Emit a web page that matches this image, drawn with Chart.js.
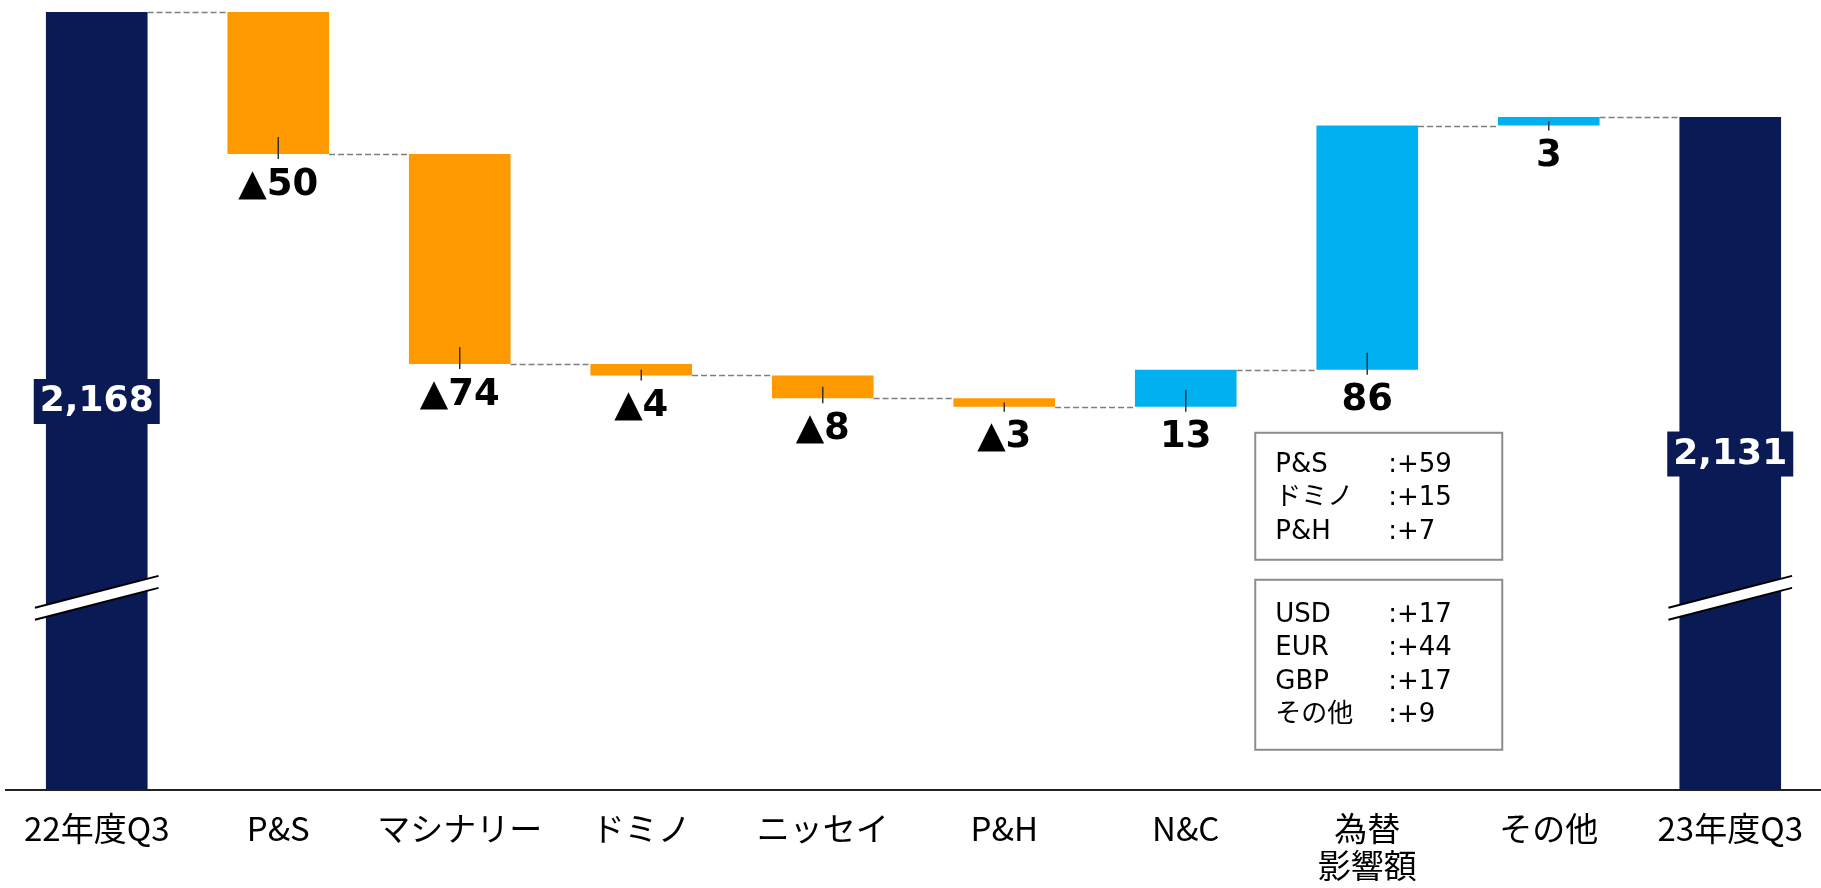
<!DOCTYPE html>
<html lang="ja">
<head>
<meta charset="utf-8">
<title>営業利益 増減要因</title>
<script src="https://cdn.jsdelivr.net/npm/chart.js@4.4.1/dist/chart.umd.min.js"></script>
<style>
  html, body { margin: 0; padding: 0; background: #fff; overflow: hidden; }
  #wrap { width: 1821px; height: 888px; }
</style>
</head>
<body>
<div id="wrap"><canvas id="chart" width="1821" height="888"></canvas></div>
<script>
const categories = ['22年度Q3', 'P&S', 'マシナリー', 'ドミノ', 'ニッセイ', 'P&H', 'N&C', ['為替', '影響額'], 'その他', '23年度Q3'];
const startTotal = 2168;
const endTotal = 2131;
const changes = [-50, -74, -4, -8, -3, 13, 86, 3];

// breakdown of the FX impact (為替影響額)
const fxSegmentNames = ['P&S', 'ドミノ', 'P&H'];
const fxSegmentValues = [59, 15, 7];
const fxCurrencyNames = ['USD', 'EUR', 'GBP', 'その他'];
const fxCurrencyValues = [17, 44, 17, 9];

// axis is cut (broken bars), so it doesn't start at zero
const yMin = 1894;
const yMax = 2168;

const NAVY = '#0a1a55';
const ORANGE = '#ff9900';
const BLUE = '#00b0f0';

// build floating bars
const ranges = [[yMin, startTotal]];
const colors = [NAVY];
let running = startTotal;
changes.forEach(c => {
  ranges.push([running, running + c]);
  colors.push(c < 0 ? ORANGE : BLUE);
  running += c;
});
ranges.push([yMin, endTotal]);
colors.push(NAVY);

function fmtChange(v) {
  return v < 0 ? '▲' + Math.abs(v) : String(v);
}

const extras = {
  id: 'extras',
  afterDatasetsDraw(chart) {
    const ctx = chart.ctx;
    const area = chart.chartArea;
    const ys = chart.scales.y;
    const bars = chart.getDatasetMeta(0).data;
    const last = bars.length - 1;
    ctx.save();

    // dashed connectors
    ctx.strokeStyle = '#7f7f7f';
    ctx.lineWidth = 1.5;
    ctx.setLineDash([6, 3]);
    for (let i = 0; i < last; i++) {
      const a = bars[i], b = bars[i + 1];
      const py = Math.round(ys.getPixelForValue(ranges[i][1])) + 0.5;
      ctx.beginPath();
      ctx.moveTo(a.x + a.width / 2, py);
      ctx.lineTo(b.x - b.width / 2, py);
      ctx.stroke();
    }
    ctx.setLineDash([]);

    // change labels with small tick
    ctx.textAlign = 'center';
    ctx.textBaseline = 'middle';
    ctx.font = 'bold 37px "DejaVu Sans"';
    for (let i = 1; i < last; i++) {
      const bar = bars[i];
      const top = Math.min(bar.y, bar.base);
      const bottom = Math.max(bar.y, bar.base);
      const up = Math.min(17, (bottom - top) / 2);
      ctx.strokeStyle = '#333';
      ctx.lineWidth = 1.5;
      ctx.beginPath();
      ctx.moveTo(bar.x, bottom - up);
      ctx.lineTo(bar.x, bottom + 5);
      ctx.stroke();
      ctx.fillStyle = '#000';
      ctx.fillText(fmtChange(changes[i - 1]), bar.x, bottom + 31);
    }

    // axis break marks on total bars
    const breakY = area.bottom - 0.247 * (area.bottom - area.top);
    [0, last].forEach(i => {
      const bar = bars[i];
      const x0 = bar.x - bar.width / 2 - 11;
      const x1 = bar.x + bar.width / 2 + 11;
      const s = 0.258;
      const dy0 = s * (bar.x - x0), dy1 = s * (x1 - bar.x);
      ctx.fillStyle = '#fff';
      ctx.beginPath();
      ctx.moveTo(x0, breakY - 6 + dy0);
      ctx.lineTo(x1, breakY - 6 - dy1);
      ctx.lineTo(x1, breakY + 6 - dy1);
      ctx.lineTo(x0, breakY + 6 + dy0);
      ctx.closePath();
      ctx.fill();
      ctx.strokeStyle = '#000';
      ctx.lineWidth = 2;
      ctx.beginPath();
      ctx.moveTo(x0, breakY - 6 + dy0);
      ctx.lineTo(x1, breakY - 6 - dy1);
      ctx.moveTo(x0, breakY + 6 + dy0);
      ctx.lineTo(x1, breakY + 6 - dy1);
      ctx.stroke();
    });

    // total labels in navy boxes
    [[0, startTotal], [last, endTotal]].forEach(([i, v]) => {
      const bar = bars[i];
      const cy = (bar.y + area.bottom) / 2;
      ctx.fillStyle = NAVY;
      ctx.fillRect(bar.x - 63, cy - 22, 126, 45);
      ctx.fillStyle = '#fff';
      ctx.font = 'bold 36px "DejaVu Sans"';
      ctx.fillText(v.toLocaleString('en-US'), bar.x, cy + 1);
    });

    // FX breakdown boxes under 為替 bar
    const fx = bars[7];
    const fxBottom = Math.max(fx.y, fx.base);
    const left = fx.x - 112;
    const boxW = 247;
    const drawBox = (top, h, names, vals, firstRow) => {
      ctx.strokeStyle = '#8c8c8c';
      ctx.lineWidth = 2;
      ctx.strokeRect(left, top, boxW, h);
      ctx.fillStyle = '#000';
      ctx.textAlign = 'left';
      ctx.font = '26px "DejaVu Sans", "Noto Sans CJK JP"';
      names.forEach((n, k) => {
        const ty = top + firstRow + k * 33.5;
        ctx.fillText(n, left + 20, ty);
        ctx.fillText(':+' + vals[k], left + 133, ty);
      });
    };
    const box1Top = fxBottom + 63;
    drawBox(box1Top, 127, fxSegmentNames, fxSegmentValues, 32);
    drawBox(box1Top + 147, 170, fxCurrencyNames, fxCurrencyValues, 35);

    ctx.restore();
  }
};

new Chart(document.getElementById('chart'), {
  type: 'bar',
  data: {
    labels: categories,
    datasets: [{
      data: ranges,
      backgroundColor: colors,
      borderWidth: 0,
      borderSkipped: false,
      categoryPercentage: 1,
      barPercentage: 0.56
    }]
  },
  options: {
    responsive: false,
    animation: false,
    devicePixelRatio: 1,
    layout: { padding: { left: 6, right: 0, top: 12, bottom: 0 } },
    plugins: { legend: { display: false }, tooltip: { enabled: false } },
    scales: {
      x: {
        grid: { display: false, drawTicks: false },
        border: { display: true, color: '#222', width: 2 },
        afterFit(scale) {
          scale.height = 98;
          scale.paddingLeft = 0;
          scale.paddingRight = 0;
        },
        ticks: {
          color: '#000',
          padding: 20,
          maxRotation: 0,
          autoSkip: false,
          font: { family: '"Noto Sans CJK JP"', size: 33, lineHeight: 1.12 }
        }
      },
      y: { display: false, min: yMin, max: yMax }
    }
  },
  plugins: [extras]
});
</script>
</body>
</html>
